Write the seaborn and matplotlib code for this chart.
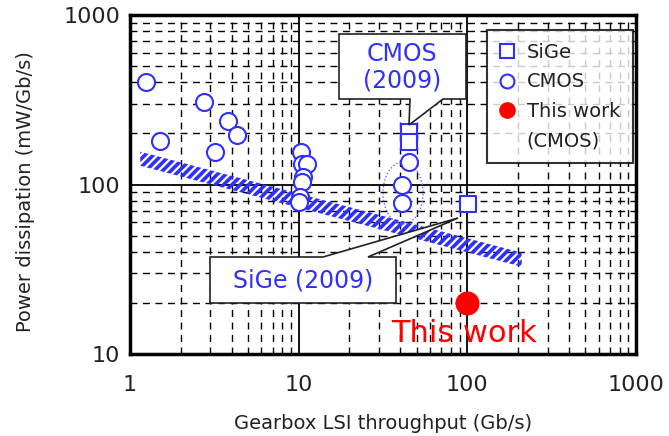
import numpy as np
import pandas as pd
import matplotlib
matplotlib.use("Agg")
import matplotlib.pyplot as plt
import seaborn as sns
from matplotlib.patches import Polygon, Ellipse
from matplotlib.lines import Line2D
from matplotlib.ticker import LogLocator, NullFormatter, FixedLocator, FixedFormatter

# ---------------- data ----------------
cmos_x = [1.25, 1.5, 2.75, 3.2, 3.8, 4.3, 10.3, 10.5, 11.2, 10.6, 10.4, 10.2, 10.0, 45.0, 41.0, 41.0]
cmos_y = [405, 181, 308, 155, 236, 197, 155, 133, 133, 111, 104, 84, 79, 135, 100, 78]
sige_x = [45.3, 45.3, 101.0]
sige_y = [205, 177, 76.5]
this_x = [100.0]
this_y = [20.0]
trend_x = [1.15, 210.0]
trend_y = [142.0, 36.0]

x_ticks = [1, 10, 100, 1000]
x_ticklabels = ["1", "10", "100", "1000"]
y_ticks = [10, 100, 1000]
y_ticklabels = ["10", "100", "1000"]
legend_labels = ["SiGe", "CMOS", "This work", "(CMOS)"]
x_label = "Gearbox LSI throughput (Gb/s)"
y_label = "Power dissipation (mW/Gb/s)"

BLUE = "#2f2fff"
RED = "#ff0000"
TXT = "#222222"

sns.set_style("white")
plt.rcParams["font.family"] = ["DejaVu Sans"]
plt.rcParams["hatch.linewidth"] = 2.6
plt.rcParams["hatch.color"] = BLUE

fig = plt.figure(figsize=(6.69, 4.36), dpi=100)
L, R, T, B = 130, 636, 15, 354
W, H = 669, 436
ax = fig.add_axes([L / W, 1 - B / H, (R - L) / W, (B - T) / H])
ax.set_xscale("log")
ax.set_yscale("log")
ax.set_xlim(1, 1000)
ax.set_ylim(10, 1000)


def P(px, py):
    return ((px - L) / (R - L), (B - py) / (B - T))


# grid
ax.set_axisbelow(True)
ax.xaxis.set_minor_locator(LogLocator(base=10, subs=np.arange(2, 10)))
ax.yaxis.set_minor_locator(LogLocator(base=10, subs=np.arange(2, 10)))
ax.grid(which="major", color="black", lw=1.3, ls="-", zorder=0)
ax.grid(which="minor", color="black", lw=1.0, ls=(0, (5, 4)), zorder=0)

# hatched trend band
tx = np.array(trend_x)
ty = np.array(trend_y)
ax.fill_between(tx, ty / 1.1, ty * 1.1, facecolor="none", edgecolor=BLUE,
                hatch="////", linewidth=0, zorder=1)

# dotted ellipse
e = Ellipse(P(403, 193), 40 / (R - L), 62 / (B - T), transform=ax.transAxes,
            fill=False, edgecolor="#6a6aff", lw=1.0, ls=(0, (1, 1.5)), zorder=2)
ax.add_patch(e)

# markers
sns.scatterplot(x=cmos_x, y=cmos_y, marker="o", s=150, color="white",
                edgecolor=BLUE, linewidth=1.5, ax=ax, zorder=3)
sns.scatterplot(x=sige_x, y=sige_y, marker="s", s=140, color="white",
                edgecolor=BLUE, linewidth=1.5, ax=ax, zorder=3)
sns.scatterplot(x=this_x, y=this_y, marker="o", s=300, color=RED,
                edgecolor=RED, linewidth=0, ax=ax, zorder=4)

# callouts
cm_box = [P(339, 34), P(466, 34), P(466, 99), P(443, 99), P(409, 125), P(410, 99), P(339, 99)]
ax.add_patch(Polygon(cm_box, closed=True, transform=ax.transAxes, facecolor="white",
                     edgecolor="#222222", lw=1.2, zorder=5))
ax.text(*P(402, 67), "CMOS\n(2009)", transform=ax.transAxes, ha="center", va="center",
        color=BLUE, fontsize=17, linespacing=1.15, zorder=6)

sg_box = [P(210, 257), P(323, 257), P(458, 218), P(368, 257), P(396, 257), P(396, 303), P(210, 303)]
ax.add_patch(Polygon(sg_box, closed=True, transform=ax.transAxes, facecolor="white",
                     edgecolor="#222222", lw=1.2, zorder=5))
ax.text(*P(303, 280), "SiGe (2009)", transform=ax.transAxes, ha="center", va="center",
        color=BLUE, fontsize=17, zorder=6)

ax.text(*P(464, 333), "This work", transform=ax.transAxes, ha="center", va="center",
        color=RED, fontsize=22, zorder=6)

# legend
handles = [
    Line2D([], [], marker="s", ls="none", mfc="white", mec=BLUE, ms=10, mew=1.5),
    Line2D([], [], marker="o", ls="none", mfc="white", mec=BLUE, ms=10, mew=1.5),
    Line2D([], [], marker="o", ls="none", mfc=RED, mec=RED, ms=11),
    Line2D([], [], ls="none"),
]
leg = ax.legend(handles, legend_labels, loc="upper right", bbox_to_anchor=P(633, 30),
                bbox_transform=ax.transAxes, frameon=True, fancybox=False,
                edgecolor="black", fontsize=14, handlelength=0.8, handletextpad=0.6,
                borderpad=0.65, labelspacing=0.55, borderaxespad=0)
leg.get_frame().set_linewidth(1.5)
leg.set_zorder(7)
for t in leg.get_texts():
    t.set_color(TXT)

# axes styling
for s in ax.spines.values():
    s.set_linewidth(2.5)
    s.set_color("black")
    s.set_zorder(8)
ax.xaxis.set_major_locator(FixedLocator(x_ticks))
ax.xaxis.set_major_formatter(FixedFormatter(x_ticklabels))
ax.yaxis.set_major_locator(FixedLocator(y_ticks))
ax.yaxis.set_major_formatter(FixedFormatter(y_ticklabels))
ax.xaxis.set_minor_formatter(NullFormatter())
ax.yaxis.set_minor_formatter(NullFormatter())
ax.tick_params(which="both", length=0)
ax.tick_params(axis="x", which="major", pad=15, labelsize=16, labelcolor=TXT)
ax.tick_params(axis="y", which="major", pad=7, labelsize=16, labelcolor=TXT)

ax.set_xlabel(x_label, fontsize=14, color=TXT)
ax.set_ylabel(y_label, fontsize=14, color=TXT)
ax.xaxis.set_label_coords(0.5, -0.177)
ax.yaxis.set_label_coords(-0.188, 0.48)

fig.savefig("out.png", dpi=100)
